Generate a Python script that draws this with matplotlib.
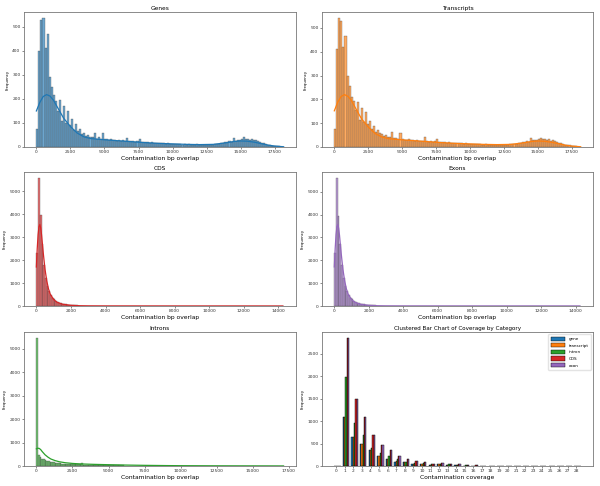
import numpy as np
import matplotlib
matplotlib.use('Agg')
import matplotlib.pyplot as plt

# ---- histogram data (bin counts) ----
# Genes: bins of 150 bp from 0
gene_width = 150
gene_counts = [
    75, 400, 530, 535, 410, 470, 290, 250, 215, 190,
    150, 195, 110, 170, 100, 150, 90, 115, 70, 95,
    65, 75, 55, 60, 45, 50, 40, 42, 60, 35,
    40, 33, 58, 35, 32, 30, 35, 28, 30, 27,
    30, 26, 28, 25, 38, 25, 24, 26, 22, 24,
    35, 22, 20, 22, 20, 18, 22, 18, 16, 18,
    15, 17, 15, 14, 16, 13, 14, 12, 13, 11,
    12, 10, 11, 10, 12, 9, 10, 9, 11, 9,
    10, 8, 9, 10, 8, 9, 10, 12, 11, 13,
    15, 18, 20, 22, 25, 22, 38, 27, 30, 28,
    35, 40, 32, 35, 30, 33, 28, 30, 25, 20,
    18, 15, 12, 10, 8, 6, 5, 4, 3, 2, 1,
]
gene_kde_x = [0, 250, 500, 750, 1000, 1250, 1500, 1750, 2000, 2500, 3000, 3500, 4000,
              5000, 6000, 7000, 8000, 9000, 10000, 11000, 12000, 13000, 14000, 14500,
              15000, 15500, 16000, 16500, 17000, 17500, 18150]
gene_kde_y = [150, 185, 210, 218, 212, 195, 170, 145, 120, 85, 58, 42, 35,
              30, 26, 22, 18, 15, 13, 11, 10, 11, 18, 23,
              25, 24, 20, 14, 8, 4, 1]

# Transcripts: bins of 150 bp from 0
tx_width = 150
tx_counts = [
    75, 410, 540, 530, 420, 465, 300, 255, 210, 195,
    155, 190, 115, 165, 105, 145, 95, 110, 75, 90,
    65, 70, 58, 55, 48, 52, 42, 40, 62, 36,
    38, 34, 60, 33, 31, 30, 34, 29, 31, 27,
    29, 27, 27, 26, 40, 25, 23, 25, 23, 24,
    33, 21, 21, 21, 19, 18, 21, 17, 17, 18,
    15, 16, 15, 14, 15, 13, 13, 12, 13, 11,
    12, 11, 10, 10, 12, 9, 10, 10, 10, 9,
    10, 9, 9, 10, 9, 9, 11, 12, 12, 14,
    16, 18, 21, 23, 24, 23, 36, 28, 29, 30,
    34, 38, 33, 34, 31, 32, 27, 29, 24, 21,
    17, 15, 12, 10, 8, 7, 5, 4, 3, 2, 1,
]
tx_kde_x = gene_kde_x
tx_kde_y = [152, 188, 212, 220, 213, 196, 170, 144, 119, 84, 57, 42, 35,
            30, 26, 22, 18, 15, 13, 11, 10, 11, 18, 23,
            25, 24, 20, 14, 8, 4, 1]

# CDS: bins of 100 bp from 0
cds_width = 100
cds_counts = [
    2300, 5560, 3950, 2700, 1800, 1200, 880, 650, 480, 370,
    290, 230, 180, 150, 120, 100, 85, 70, 58, 48,
    40, 33, 28, 24, 20, 17, 15, 13, 11, 10,
    9, 8, 7, 6, 6, 5, 5, 4, 4, 4,
    3, 3, 3, 3, 2, 2, 2, 2, 2, 2,
    2, 2, 1, 1, 1, 1, 1, 1, 1, 1,
    1, 1, 1, 1, 1, 1, 1, 1, 1, 1,
    1, 1, 1, 1, 1, 1, 1, 1, 1, 1,
    1, 1, 1, 1, 1, 1, 1, 1, 1, 1,
    1, 1, 1, 1, 1, 1, 1, 1, 1, 1,
    1, 1, 1, 1, 1, 1, 1, 1, 1, 1,
    1, 1, 1, 1, 1, 1, 1, 1, 1, 1,
    1, 1, 1, 1, 1, 1, 1, 1, 1, 1,
    1, 1, 1, 1, 1, 1, 1, 1, 1, 1, 1, 1, 1,
]
cds_kde_x = [0, 50, 100, 150, 200, 250, 300, 400, 500, 600, 700, 800, 1000, 1200,
             1500, 2000, 2500, 3000, 4000, 6000, 8000, 10000, 12000, 14250]
cds_kde_y = [1700, 2500, 3100, 3450, 3550, 3400, 3100, 2300, 1600, 1100, 750, 520, 280, 160,
             80, 30, 12, 6, 3, 2, 1, 1, 1, 0]

# Exons: bins of 100 bp from 0
exon_width = 100
exon_counts = [
    2300, 5580, 3950, 2720, 1790, 1210, 870, 655, 475, 365,
    285, 225, 182, 148, 118, 100, 84, 70, 57, 47,
    40, 33, 28, 23, 20, 17, 15, 13, 11, 10,
    9, 8, 7, 6, 6, 5, 5, 4, 4, 4,
    3, 3, 3, 3, 2, 2, 2, 2, 2, 2,
    2, 2, 1, 1, 1, 1, 1, 1, 1, 1,
    1, 1, 1, 1, 1, 1, 1, 1, 1, 1,
    1, 1, 1, 1, 1, 1, 1, 1, 1, 1,
    1, 1, 1, 1, 1, 1, 1, 1, 1, 1,
    1, 1, 1, 1, 1, 1, 1, 1, 1, 1,
    1, 1, 1, 1, 1, 1, 1, 1, 1, 1,
    1, 1, 1, 1, 1, 1, 1, 1, 1, 1,
    1, 1, 1, 1, 1, 1, 1, 1, 1, 1,
    1, 1, 1, 1, 1, 1, 1, 1, 1, 1, 1, 1, 1,
]
exon_kde_x = cds_kde_x
exon_kde_y = [1710, 2510, 3120, 3460, 3560, 3410, 3100, 2290, 1600, 1100, 750, 520, 280, 160,
              80, 30, 12, 6, 3, 2, 1, 1, 1, 0]

# Introns: bins of 115 bp from 0
intron_width = 115
intron_counts = [
    5450, 480, 370, 310, 280, 250, 225, 200, 180, 165,
    150, 140, 130, 120, 110, 105, 100, 95, 90, 85,
    80, 78, 75, 72, 70, 68, 65, 130, 60, 58,
    56, 54, 52, 50, 48, 46, 44, 42, 40, 38,
    36, 34, 32, 30, 29, 28, 27, 26, 25, 45,
    24, 23, 22, 21, 20, 20, 19, 19, 18, 18,
    17, 17, 16, 16, 15, 15, 14, 14, 13, 13,
    12, 12, 11, 11, 10, 10, 10, 9, 9, 9,
    9, 8, 8, 8, 8, 8, 7, 7, 7, 7,
    6, 6, 6, 6, 6, 5, 5, 5, 5, 5,
    5, 4, 4, 4, 4, 4, 4, 4, 3, 3,
    3, 3, 3, 3, 3, 3, 3, 2, 2, 2,
    2, 2, 2, 2, 2, 2, 2, 2, 2, 2,
    1, 1, 1, 1, 1, 1, 1, 1, 1, 1,
    1, 1, 1, 1, 1, 1, 1, 1, 1,
]
intron_kde_x = [0, 100, 200, 300, 400, 600, 800, 1000, 1300, 1600, 2000, 2500, 3000,
                4000, 5000, 6000, 7500, 9000, 10000, 12000, 14000, 16000, 17130]
intron_kde_y = [730, 760, 750, 700, 620, 480, 380, 300, 230, 180, 140, 110, 90,
                70, 55, 42, 28, 18, 13, 8, 5, 3, 1]

# ---- clustered bar data ----
coverage = list(range(29))
cov_gene = [3, 1080, 650, 500, 360, 220, 150, 100, 80, 55, 50, 25, 35, 25, 15,
            10, 8, 5, 4, 6, 3, 2, 2, 2, 2, 2, 2, 2, 2]
cov_transcript = [3, 1080, 650, 500, 360, 220, 150, 110, 80, 55, 50, 25, 35, 25, 15,
                  10, 8, 5, 4, 6, 3, 2, 2, 2, 2, 2, 2, 2, 2]
cov_intron = [3, 1980, 960, 700, 390, 280, 220, 160, 100, 60, 60, 40, 45, 35, 20,
              15, 10, 6, 5, 4, 3, 2, 2, 2, 2, 2, 2, 2, 2]
cov_cds = [3, 2840, 1480, 1090, 690, 460, 360, 230, 150, 110, 90, 55, 70, 45, 35,
           20, 15, 10, 8, 10, 4, 3, 3, 3, 3, 3, 3, 3, 3]
cov_exon = [3, 2840, 1480, 1090, 690, 460, 360, 230, 150, 110, 90, 55, 70, 45, 35,
            20, 15, 10, 8, 10, 4, 3, 3, 3, 3, 3, 3, 3, 3]
cov_labels = ['gene', 'transcript', 'intron', 'CDS', 'exon']
cov_colors = ['tab:blue', 'tab:orange', 'tab:green', 'tab:red', 'tab:purple']

W, H = 600, 486
fig = plt.figure(figsize=(6, 4.86), dpi=100)


def box(l, t, r, b):
    return [l / W, 1 - b / H, (r - l) / W, (b - t) / H]


def style(ax):
    ax.tick_params(labelsize=3.2, length=1.5, width=0.4, pad=1, colors='#333333')
    for s in ax.spines.values():
        s.set_linewidth(0.6)
        s.set_color('#777777')
    ax.set_ylabel('Frequency', fontsize=2.8, labelpad=2)


def hist_panel(rect, counts, width, kx, ky, color, title, xticks):
    ax = fig.add_axes(rect)
    counts = np.asarray(counts)
    edges = np.arange(len(counts)) * width
    ax.bar(edges, counts, width=width, align='edge', color=color, alpha=0.65,
           edgecolor='#333333', linewidth=0.3)
    ax.plot(kx, ky, color=color, lw=0.9)
    ax.set_xticks(xticks)
    ax.set_title(title, fontsize=4.2, pad=1.5)
    ax.set_xlabel('Contamination bp overlap', fontsize=4.3, labelpad=1)
    style(ax)
    return ax


t1 = np.arange(0, 17501, 2500)
t2 = np.arange(0, 14001, 2000)
L = (24, 296)
R = (322, 593)
hist_panel(box(L[0], 12, L[1], 147), gene_counts, gene_width, gene_kde_x, gene_kde_y,
           'tab:blue', 'Genes', t1)
hist_panel(box(R[0], 12, R[1], 147), tx_counts, tx_width, tx_kde_x, tx_kde_y,
           'tab:orange', 'Transcripts', t1)
hist_panel(box(L[0], 172, L[1], 306), cds_counts, cds_width, cds_kde_x, cds_kde_y,
           'tab:red', 'CDS', t2)
hist_panel(box(R[0], 172, R[1], 306), exon_counts, exon_width, exon_kde_x, exon_kde_y,
           'tab:purple', 'Exons', t2)
hist_panel(box(L[0], 332, L[1], 466), intron_counts, intron_width, intron_kde_x, intron_kde_y,
           'tab:green', 'Introns', t1)

# clustered bar chart
ax = fig.add_axes(box(R[0], 332, R[1], 466))
x = np.array(coverage)
bw = 0.15
series = [cov_gene, cov_transcript, cov_intron, cov_cds, cov_exon]
for i, (vals, lab, col) in enumerate(zip(series, cov_labels, cov_colors)):
    ax.bar(x + (i - 1) * bw, vals, width=bw, color=col, edgecolor='black',
           linewidth=0.3, label=lab)
ax.set_xticks(x)
ax.set_title('Clustered Bar Chart of Coverage by Category', fontsize=4.1, pad=1.5)
ax.set_xlabel('Contamination coverage', fontsize=4.3, labelpad=1)
style(ax)
ax.legend(fontsize=3, loc='upper right', handlelength=3.5, handleheight=1.2,
          frameon=True, framealpha=0.8, edgecolor='#dddddd', borderpad=0.6)

fig.savefig('out.png', dpi=100)
